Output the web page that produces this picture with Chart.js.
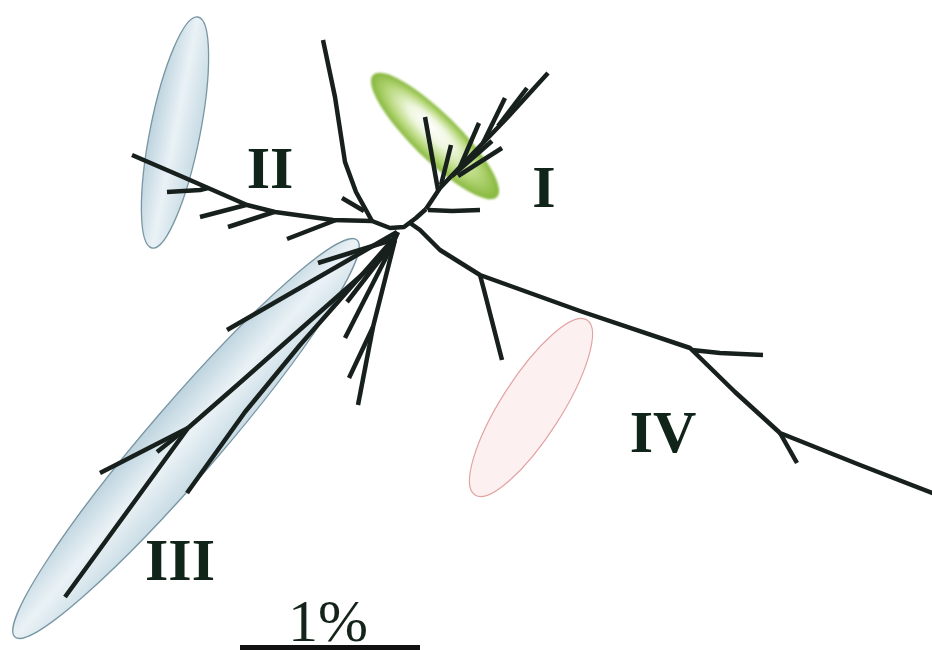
<!DOCTYPE html>
<html><head><meta charset="utf-8">
<script src="https://cdn.jsdelivr.net/npm/chart.js@4/dist/chart.umd.min.js"></script>
<style>html,body{margin:0;padding:0;background:#fff;overflow:hidden}#wrap{width:932px;height:650px;position:relative}
.pre{font-family:"Liberation Serif";position:absolute;left:-9999px}</style>
</head><body><div id="wrap"><canvas id="c"></canvas></div>
<span class="pre">I<b>I</b></span>
<script>
// ---- tree layout data (node coordinates in layout units; y grows downward) ----
const spine = [[372,221],[390,228],[404,227],[416,218],[426,209]];
const cladeTop = [
  [[323,40],[335,97],[345,162],[356,192],[372,221]],
  [[342,198],[364,211]]
];
const cladeII = [
  [[132,155],[183,177],[247,205],[275,212],[333,220],[372,221]],
  [[167,192],[200,190],[208,188]],
  [[200,217],[246,205]],
  [[228,227],[274,212]],
  [[287,239],[336,220]]
];
const cladeI = [
  [[426,209],[432,200],[440,188],[460,167],[483,143],[507,118],[548,73]],
  [[428,210],[452,211],[480,210]],
  [[425,117],[438,190]],
  [[451,145],[441,185]],
  [[479,123],[460,167]],
  [[505,98],[483,143]],
  [[527,88],[498,126]],
  [[492,141],[452,176]],
  [[502,148],[458,176]]
];
const cladeIII = [
  [[397,232],[227,330]],
  [[392,240],[318,263]],
  [[398,232],[390,250],[243,380],[188,428],[65,597]],
  [[188,428],[100,473]],
  [[182,432],[157,452]],
  [[396,236],[300,345],[245,412],[187,493]],
  [[395,240],[347,302]],
  [[395,240],[345,338]],
  [[395,240],[373,327],[349,378]],
  [[373,327],[358,405]]
];
const cladeIV = [
  [[410,223],[420,230],[440,250],[480,275],[580,311],[690,348],[735,392],[780,433],[860,465],[935,494]],
  [[480,275],[484,290],[502,360]],
  [[692,350],[720,353],[763,355]],
  [[780,433],[797,463]]
];
// clade hulls: major-axis end points and half widths
const hullNames = ['I','II','III','IV'];
const hullEndA = [[373,75],[198,17],[357,240],[587,320]];
const hullEndB = [[497,197],[152,248],[15,637],[475,495]];
const hullHalfWidth = [23,25,36,30];
// clade labels
const cladeLabels = ['I','II','III','IV'];
const labelX = [544,270,180,663];
const labelY = [207,188,580,452];
// scale bar
const scaleLabel = '1%';
const scaleFrom = [240,648];
const scaleTo = [420,648];
const scaleLabelPos = [328,641];

const INK = '#18201d';
const SERIF = '"Liberation Serif", "Times New Roman", Times, serif';
const toPts = p => p.map(([x,y]) => ({x, y}));
const allPaths = [spine, ...cladeTop, ...cladeII, ...cladeI, ...cladeIII, ...cladeIV];
const datasets = allPaths.map(p => ({
  data: toPts(p), showLine: true, borderColor: INK, borderWidth: 4.5,
  pointRadius: 0, fill: false, tension: 0, borderJoinStyle: 'round', borderCapStyle: 'butt'
}));
datasets.push({data: toPts([scaleFrom, scaleTo]), showLine: true, borderColor: '#111', borderWidth: 6, pointRadius: 0, borderCapStyle: 'butt'});

const hullStyles = {'I': 'green', 'II': 'blue', 'III': 'blue', 'IV': 'pink'};

const hullPlugin = {
  id: 'hulls',
  beforeDatasetsDraw(chart) {
    const {ctx, scales: {x, y}} = chart;
    hullNames.forEach((name, i) => {
      const ax = x.getPixelForValue(hullEndA[i][0]), ay = y.getPixelForValue(hullEndA[i][1]);
      const bx = x.getPixelForValue(hullEndB[i][0]), by = y.getPixelForValue(hullEndB[i][1]);
      const cx = (ax + bx) / 2, cy = (ay + by) / 2;
      const a = Math.hypot(bx - ax, by - ay) / 2;
      const b = Math.abs(x.getPixelForValue(hullHalfWidth[i]) - x.getPixelForValue(0));
      const ang = Math.atan2(by - ay, bx - ax);
      ctx.save();
      ctx.translate(cx, cy);
      ctx.rotate(ang);
      const st = hullStyles[name];
      if (st === 'green') {
        ctx.save();
        ctx.scale(1, b / a);
        const g = ctx.createRadialGradient(-a * 0.15, -a * 0.2, 0, 0, 0, a);
        g.addColorStop(0, '#ffffff');
        g.addColorStop(0.35, '#eef6de');
        g.addColorStop(0.7, '#b9d97e');
        g.addColorStop(1, '#86b83c');
        ctx.filter = 'blur(1px)';
        ctx.beginPath();
        ctx.arc(0, 0, a, 0, Math.PI * 2);
        ctx.fillStyle = g;
        ctx.fill();
        ctx.restore();
      } else {
        ctx.beginPath();
        ctx.ellipse(0, 0, a, b, 0, 0, Math.PI * 2);
        if (st === 'blue') {
          const g = ctx.createLinearGradient(0, -b, 0, b);
          g.addColorStop(0, '#c8dbe4');
          g.addColorStop(0.5, '#eaf2f6');
          g.addColorStop(1, '#bdd3de');
          ctx.fillStyle = g;
          ctx.fill();
          ctx.lineWidth = 1.3;
          ctx.strokeStyle = '#7896a3';
          ctx.stroke();
        } else {
          ctx.fillStyle = '#fcf1f0';
          ctx.fill();
          ctx.lineWidth = 1.2;
          ctx.strokeStyle = '#e2a3a3';
          ctx.stroke();
        }
      }
      ctx.restore();
    });
  },
  afterDatasetsDraw(chart) {
    const {ctx, scales: {x, y}} = chart;
    ctx.save();
    ctx.fillStyle = '#10241a';
    ctx.textAlign = 'center';
    ctx.textBaseline = 'alphabetic';
    ctx.font = 'bold 60px ' + SERIF;
    cladeLabels.forEach((t, i) => {
      ctx.fillText(t, x.getPixelForValue(labelX[i]), y.getPixelForValue(labelY[i]));
    });
    ctx.font = '60px ' + SERIF;
    ctx.fillStyle = '#14241a';
    ctx.fillText(scaleLabel, x.getPixelForValue(scaleLabelPos[0]), y.getPixelForValue(scaleLabelPos[1]));
    ctx.restore();
  }
};

function build() {
  new Chart(document.getElementById('c'), {
    type: 'scatter',
    data: {datasets},
    options: {
      responsive: true, maintainAspectRatio: false, animation: false,
      layout: {padding: 0},
      plugins: {legend: {display: false}, tooltip: {enabled: false}},
      events: [],
      scales: {
        x: {type: 'linear', min: 0, max: 932, display: false},
        y: {type: 'linear', min: 0, max: 650, reverse: true, display: false}
      }
    },
    plugins: [hullPlugin]
  });
}
Promise.all([
  document.fonts.load('bold 60px "Liberation Serif"'),
  document.fonts.load('60px "Liberation Serif"')
]).then(build, build);
</script>
</body></html>
